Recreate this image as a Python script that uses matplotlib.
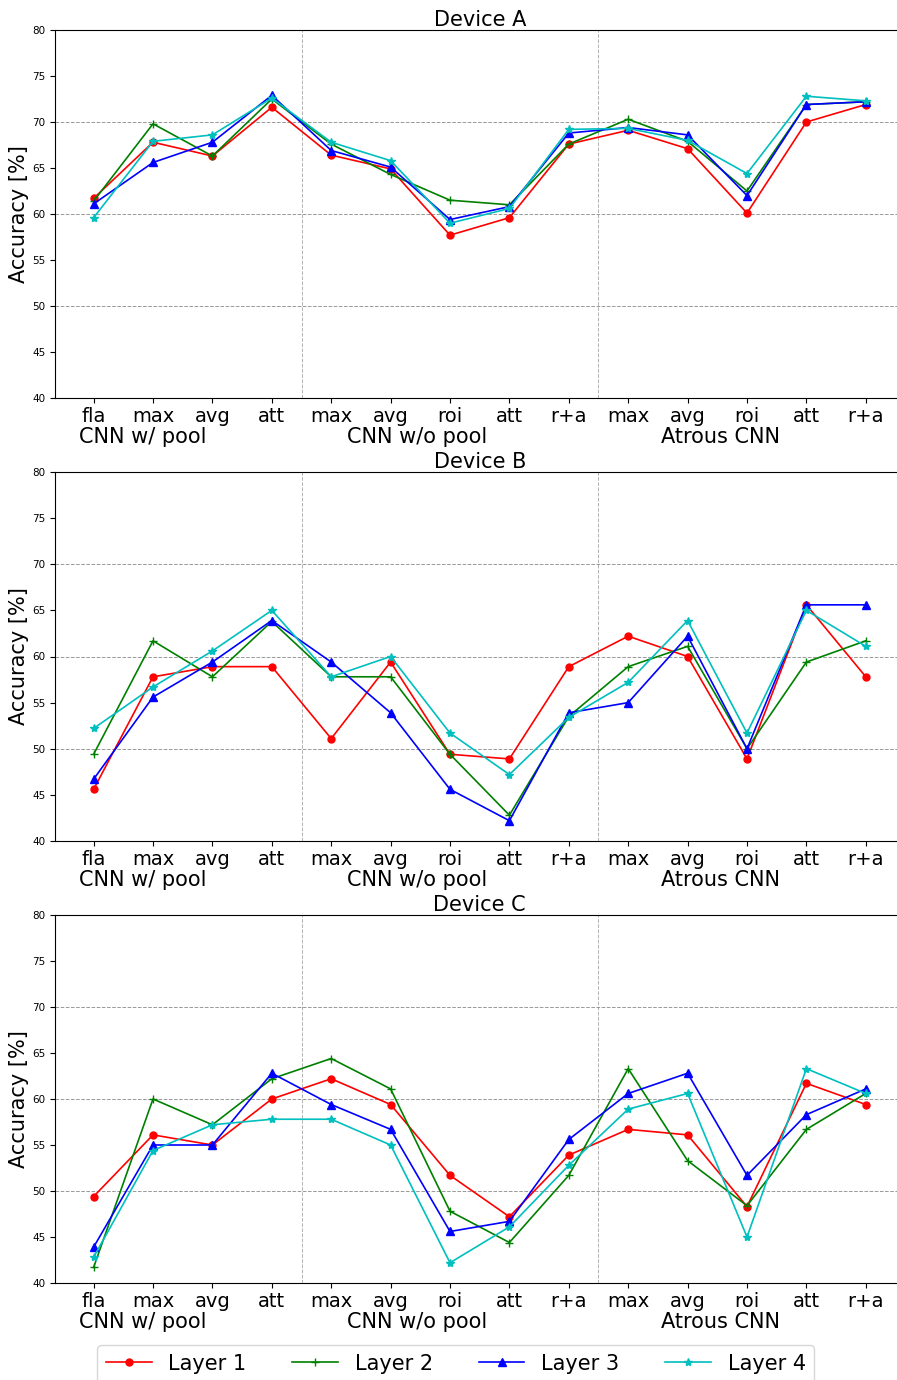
import matplotlib
matplotlib.use("Agg")
import matplotlib.pyplot as plt
from matplotlib.transforms import blended_transform_factory

# x categories (14 configurations, three model families)
tick_labels = ["fla", "max", "avg", "att",
               "max", "avg", "roi", "att", "r+a",
               "max", "avg", "roi", "att", "r+a"]
group_names = ["CNN w/ pool", "CNN w/o pool", "Atrous CNN"]
group_label_x = [0.82, 5.44, 10.56]
group_splits = [3.5, 8.5]
devices = ["Device A", "Device B", "Device C"]
layer_names = ["Layer 1", "Layer 2", "Layer 3", "Layer 4"]

# accuracy [%] per device, one list per layer
dev_a_layer1 = [61.7, 67.8, 66.3, 71.6, 66.4, 64.9, 57.7, 59.6, 67.6, 69.1, 67.1, 60.1, 70.0, 71.9]
dev_a_layer2 = [61.4, 69.8, 66.3, 72.5, 67.6, 64.3, 61.5, 61.0, 67.6, 70.3, 67.9, 62.5, 71.9, 72.2]
dev_a_layer3 = [61.1, 65.6, 67.8, 72.9, 66.9, 65.1, 59.4, 60.8, 68.8, 69.4, 68.6, 62.0, 71.9, 72.2]
dev_a_layer4 = [59.6, 67.9, 68.6, 72.6, 67.8, 65.8, 59.0, 60.6, 69.2, 69.3, 68.0, 64.4, 72.8, 72.3]

dev_b_layer1 = [45.6, 57.8, 58.9, 58.9, 51.1, 59.4, 49.4, 48.9, 58.9, 62.2, 60.0, 48.9, 65.6, 57.8]
dev_b_layer2 = [49.4, 61.7, 57.8, 63.8, 57.8, 57.8, 49.4, 42.8, 53.5, 58.9, 61.1, 50.0, 59.4, 61.7]
dev_b_layer3 = [46.7, 55.6, 59.4, 63.9, 59.4, 53.9, 45.6, 42.2, 53.9, 55.0, 62.2, 50.0, 65.6, 65.6]
dev_b_layer4 = [52.2, 56.7, 60.6, 65.0, 57.8, 60.0, 51.7, 47.2, 53.4, 57.2, 63.9, 51.7, 65.0, 61.1]

dev_c_layer1 = [49.4, 56.1, 55.0, 60.0, 62.2, 59.4, 51.7, 47.2, 53.9, 56.7, 56.1, 48.3, 61.7, 59.4]
dev_c_layer2 = [41.7, 60.0, 57.2, 62.2, 64.4, 61.1, 47.8, 44.4, 51.7, 63.3, 53.3, 48.4, 56.7, 60.6]
dev_c_layer3 = [43.9, 55.0, 55.0, 62.8, 59.4, 56.7, 45.6, 46.7, 55.6, 60.6, 62.8, 51.7, 58.3, 61.1]
dev_c_layer4 = [42.8, 54.4, 57.2, 57.8, 57.8, 55.0, 42.2, 46.1, 52.8, 58.9, 60.6, 45.0, 63.3, 60.6]

device_data = [
    [dev_a_layer1, dev_a_layer2, dev_a_layer3, dev_a_layer4],
    [dev_b_layer1, dev_b_layer2, dev_b_layer3, dev_b_layer4],
    [dev_c_layer1, dev_c_layer2, dev_c_layer3, dev_c_layer4],
]

styles = [("r", "o", 5), ("g", "+", 6), ("b", "^", 5.5), ("c", "*", 6)]

W, H = 897, 1380
fig = plt.figure(figsize=(W / 100, H / 100), dpi=100)

# axes boxes in pixels (top, bottom)
boxes = [(30, 398), (472, 841), (915, 1283)]
left_px, width_px = 55, 849.4

x = list(range(len(tick_labels)))
handles = []
for (top, bottom), title, series in zip(boxes, devices, device_data):
    ax = fig.add_axes([left_px / W, 1 - bottom / H, width_px / W, (bottom - top) / H])
    for vals, name, (c, m, ms) in zip(series, layer_names, styles):
        ln, = ax.plot(x, vals, color=c, marker=m, markersize=ms, linewidth=1.2, label=name)
        if len(handles) < 4:
            handles.append(ln)

    ax.set_xlim(-0.65, 13.65)
    ax.set_ylim(40, 80)
    ax.set_yticks(range(40, 81, 5))
    ax.tick_params(axis="y", labelsize=7.5)
    ax.set_xticks(x)
    ax.set_xticklabels(tick_labels, fontsize=14)
    ax.tick_params(axis="x", pad=3)
    ax.set_ylabel("Accuracy [%]", fontsize=15, labelpad=2)
    ax.set_title(title, fontsize=15, pad=1)

    for yv in (50, 60, 70):
        ax.axhline(yv, color="gray", linestyle="--", linewidth=0.7, alpha=0.8, zorder=0)
    for xv in group_splits:
        ax.axvline(xv, color="gray", linestyle="--", linewidth=0.7, alpha=0.6, zorder=0)

    trans = blended_transform_factory(ax.transData, ax.transAxes)
    for gx, gname in zip(group_label_x, group_names):
        ax.text(gx, -0.078, gname, transform=trans, ha="center", va="top", fontsize=15)

fig.legend(handles, layer_names, loc="upper center", bbox_to_anchor=(0.508, 1 - 1335 / H),
           ncol=4, fontsize=15, columnspacing=2.2, handlelength=2.2, frameon=True)

fig.savefig("out.png", dpi=100)
